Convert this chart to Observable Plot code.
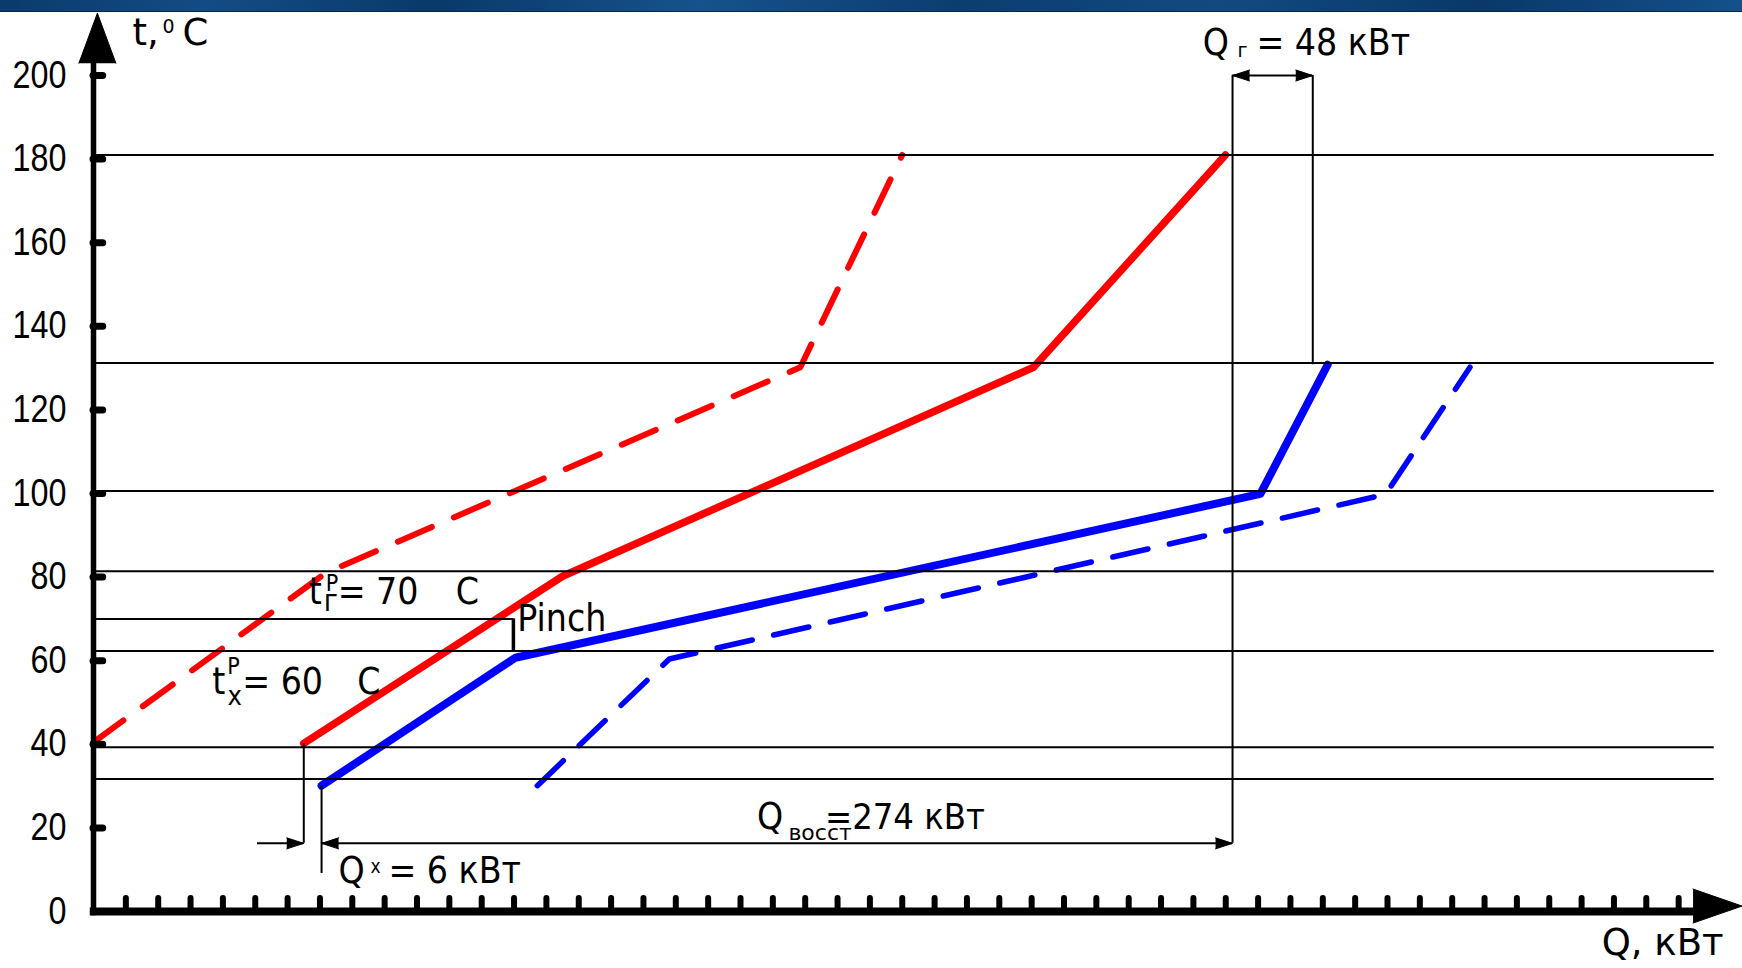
<!DOCTYPE html>
<html lang="ru">
<head>
<meta charset="utf-8">
<title>Составные кривые</title>
<script src="https://cdn.jsdelivr.net/npm/d3@7"></script>
<script src="https://cdn.jsdelivr.net/npm/@observablehq/plot@0.6"></script>
<style>
  html, body { margin: 0; padding: 0; background: #ffffff; }
  #wrap { position: relative; width: 1742px; height: 968px; overflow: hidden; background: #fff; }
  #band { position: absolute; left: 0; top: 0; width: 1742px; height: 11px;
    background: linear-gradient(90deg, #0b3a6d 0%, #134c84 12%, #0a396b 25%, #16528b 40%, #0c3d71 55%, #124a80 70%, #0a386a 85%, #14508a 100%);
    border-bottom: 1px solid #062548; }
  #chart svg { display: block; }
</style>
</head>
<body>
<div id="wrap"><div id="chart"></div><div id="band"></div></div>
<script>
// ---------------- data ----------------
const yTicks = [0, 20, 40, 60, 80, 100, 120, 140, 160, 180, 200];
const xTicks = d3.range(10, 500, 10);

// hot composite curve (solid red): Q, кВт / t, °C
const hotQ = [65, 145, 290.6, 349.9];
const hotT = [40.2, 80.2, 130.2, 181];
// hot composite shifted (dashed red)
const hotShiftQ = [0, 71.8, 218.5, 250];
const hotShiftT = [40.5, 81, 130.2, 181];
// cold composite curve (solid blue)
const coldQ = [70.5, 130.4, 360.7, 381.5];
const coldT = [30.1, 60.7, 99.9, 130.8];
// cold composite shifted (dashed blue)
const coldShiftQ = [137.2, 178, 399.4, 425.5];
const coldShiftT = [30.1, 60.4, 99.8, 130.2];

// horizontal temperature levels
const levels = [181, 131.2, 100.6, 81.4, 62.3, 39.3, 31.7];
const pinchHotT = 70;
const pinchColdT = 62.3;
const pinchQ = 129.8;

// energy dimension markers
const qHotStart = 65, qColdStart = 70.5, qRecEnd = 352.1, qHotUtilEnd = 376.9, qDimLeft = 50.7;
const dimLowT = 16.3, dimTopT = 200, coldTickLowT = 9.1, hotStartT = 40.2, coldStartT = 30.1, coldEndT = 130.8;

// ---------------- helpers ----------------
const zip = (Q, T) => Q.map((q, i) => ({q, t: T[i]}));
const BLACK = "#000";
const SVGNS = "http://www.w3.org/2000/svg";
const FONT = "'DejaVu Sans Condensed', 'DejaVu Sans', sans-serif";
const WIDE = "'DejaVu Sans', sans-serif";
const NARROW = "'Liberation Sans', Arial, sans-serif";

const txt = (s, q, t, o = {}) => Plot.text([s], {
  x: q, y: t, text: d => d, textAnchor: "start", lineAnchor: "bottom",
  fontFamily: FONT, fontSize: 37, fill: BLACK, ...o
});

// one text element made of tspans (for super- and subscripts)
function rich(q, t, segs, o = {}) {
  return Plot.text([segs.map(s => s.s).join("")], {
    x: q, y: t, text: d => d, textAnchor: "start", lineAnchor: "bottom",
    fontFamily: FONT, fontSize: 37, fill: BLACK, ...o,
    render(index, scales, values, dims, ctx, next) {
      const g = next(index, scales, values, dims, ctx);
      g.querySelectorAll("text").forEach(el => {
        el.textContent = "";
        for (const seg of segs) {
          const ts = document.createElementNS(SVGNS, "tspan");
          ts.setAttribute("x", seg.ox ?? 0);
          ts.setAttribute("y", seg.oy ?? 0);
          if (seg.size) ts.setAttribute("font-size", seg.size);
          if (seg.family) ts.setAttribute("font-family", seg.family);
          ts.textContent = seg.s;
          el.appendChild(ts);
        }
      });
      return g;
    }
  });
}

const head = (q, t, rot, o = {}) => Plot.vector([0], {
  x: q, y: t, rotate: rot, length: 17, r: 5.5, shape: "spike", anchor: "end",
  fill: BLACK, stroke: BLACK, strokeWidth: 1, ...o
});

const chart = Plot.plot({
  width: 1742, height: 968,
  marginTop: 0, marginRight: 0, marginBottom: 0, marginLeft: 0,
  x: {domain: [0, 500], range: [93, 1710.5], axis: null},
  y: {domain: [0, 200], range: [911, 75], axis: null},
  style: {background: "#fff", overflow: "visible"},
  marks: [
    // curves
    Plot.line(zip(hotShiftQ, hotShiftT), {x: "q", y: "t", stroke: "#ff0000", strokeWidth: 6, strokeDasharray: "37,24", strokeLinejoin: "round"}),
    Plot.line(zip(coldShiftQ, coldShiftT), {x: "q", y: "t", stroke: "#0000ff", strokeWidth: 5.5, strokeDasharray: "36,22", strokeLinejoin: "round"}),
    Plot.line(zip(hotQ, hotT), {x: "q", y: "t", stroke: "#ff0000", strokeWidth: 7.5, strokeLinejoin: "round"}),
    Plot.line(zip(coldQ, coldT), {x: "q", y: "t", stroke: "#0000ff", strokeWidth: 8, strokeLinejoin: "round"}),

    // horizontal levels
    Plot.ruleY(levels, {y: d => d, x1: 0, x2: 501, stroke: BLACK, strokeWidth: 2}),
    Plot.ruleY([pinchHotT], {y: d => d, x1: 0, x2: pinchQ, stroke: BLACK, strokeWidth: 2}),
    Plot.ruleX([pinchQ], {x: d => d, y1: pinchColdT, y2: pinchHotT, stroke: BLACK, strokeWidth: 3.5}),

    // dimension lines
    Plot.ruleX([qHotStart], {x: d => d, y1: dimLowT, y2: hotStartT, stroke: BLACK, strokeWidth: 2}),
    Plot.ruleX([qColdStart], {x: d => d, y1: coldTickLowT, y2: coldStartT, stroke: BLACK, strokeWidth: 2}),
    Plot.ruleX([qRecEnd], {x: d => d, y1: dimLowT, y2: dimTopT, stroke: BLACK, strokeWidth: 2}),
    Plot.ruleX([qHotUtilEnd], {x: d => d, y1: coldEndT, y2: dimTopT, stroke: BLACK, strokeWidth: 2}),
    Plot.ruleY([dimLowT], {y: d => d, x1: qDimLeft, x2: qHotStart, stroke: BLACK, strokeWidth: 2}),
    Plot.ruleY([dimLowT], {y: d => d, x1: qColdStart, x2: qRecEnd, stroke: BLACK, strokeWidth: 2}),
    Plot.ruleY([dimTopT], {y: d => d, x1: qRecEnd, x2: qHotUtilEnd, stroke: BLACK, strokeWidth: 2}),
    head(qHotStart, dimLowT, 90),
    head(qColdStart, dimLowT, -90),
    head(qRecEnd, dimLowT, 90),
    head(qRecEnd, dimTopT, -90),
    head(qHotUtilEnd, dimTopT, 90),

    // axes
    Plot.ruleX([0], {x: d => d, y1: -1, y2: 203.1, stroke: BLACK, strokeWidth: 5.5}),
    Plot.ruleY([0], {y: d => d, x1: -1, x2: 494.6, stroke: BLACK, strokeWidth: 8}),
    head(1.2, 214.9, 0, {length: 50, r: 18.5}),
    head(509.6, 1.3, 90, {length: 49, r: 17}),
    Plot.ruleX(xTicks, {x: d => d, y1: 0, y2: 3.1, stroke: BLACK, strokeWidth: 6, strokeLinecap: "round"}),
    Plot.ruleY(yTicks.filter(d => d > 0), {y: d => d, x1: 0, x2: 3, stroke: BLACK, strokeWidth: 7, strokeLinecap: "round"}),
    Plot.text(yTicks, {
      x: 0, y: d => d, text: d => String(d), textAnchor: "end", lineAnchor: "middle", dx: -27,
      fontFamily: NARROW, fontSize: 38, fill: BLACK,
      render(index, scales, values, dims, ctx, next) {
        const g = next(index, scales, values, dims, ctx);
        g.querySelectorAll("text").forEach(el => el.setAttribute("transform", (el.getAttribute("transform") || "") + " scale(0.85,1)"));
        return g;
      }
    }),

    // axis titles
    rich(12.06, 207.2, [
      {s: "t,", ox: 0, oy: 0},
      {s: "0", ox: 30, oy: -12, size: 19},
      {s: "C", ox: 50, oy: 0}
    ], {fontFamily: WIDE}),
    txt("Q, кВт", 503.9, -10.5, {fontFamily: WIDE, textAnchor: "end"}),

    // Q г = 48 кВт
    rich(342.9, 204.8, [
      {s: "Q", ox: 0, oy: 0},
      {s: "г", ox: 34.6, oy: 2, size: 19, family: WIDE},
      {s: "= 48 кВт", ox: 53.6, oy: 0}
    ]),

    // Q восст = 274 кВт
    rich(205.1, 19.8, [
      {s: "Q", ox: 0, oy: 0},
      {s: "восст", ox: 31.4, oy: 11.7, size: 22, family: WIDE},
      {s: "=274 кВт", ox: 68, oy: 0, size: 36}
    ]),

    // Q x = 6 кВт
    rich(75.7, 6.7, [
      {s: "Q", ox: 0, oy: 0},
      {s: "x", ox: 32, oy: -10, size: 19},
      {s: "= 6 кВт", ox: 50, oy: 0}
    ]),

    // Pinch
    txt("Pinch", 131.0, 67.0),

    // t г P = 70 C
    rich(66.5, 73.6, [
      {s: "t", ox: 0, oy: 0},
      {s: "P", ox: 17, oy: -13.3, size: 23},
      {s: "г", ox: 15, oy: 6.7, size: 30},
      {s: "= 70", ox: 29, oy: 0},
      {s: "C", ox: 147, oy: 0}
    ]),

    // t x P = 60 C
    rich(36.7, 52.1, [
      {s: "t", ox: 0, oy: 0},
      {s: "P", ox: 15, oy: -20, size: 23},
      {s: "x", ox: 15.3, oy: 11.7, size: 27},
      {s: "= 60", ox: 30, oy: 0},
      {s: "C", ox: 145, oy: 0}
    ])
  ]
});
document.getElementById("chart").append(chart);
</script>
</body>
</html>
